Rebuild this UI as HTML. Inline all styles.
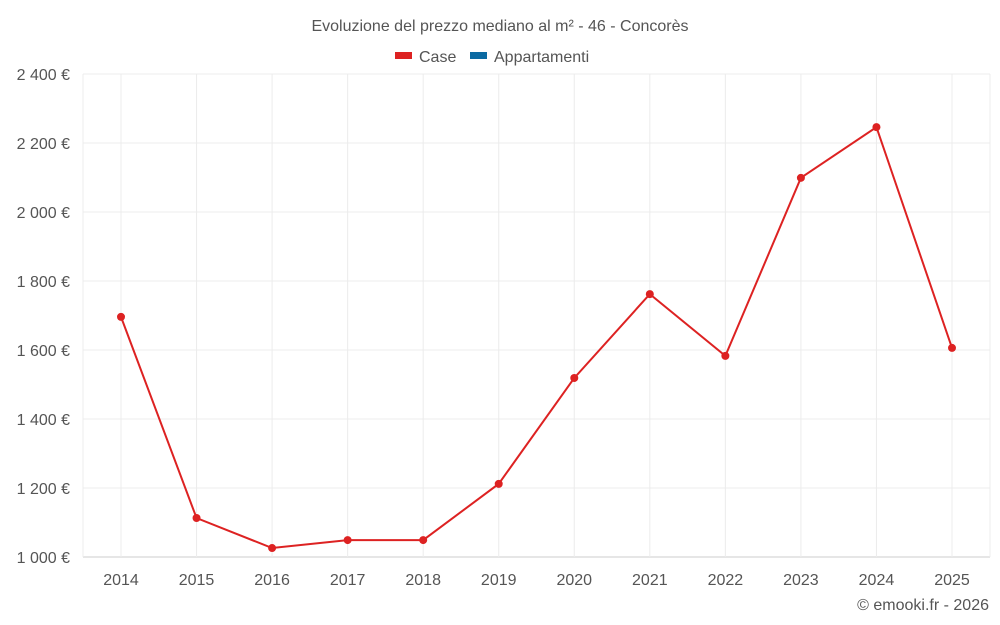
<!DOCTYPE html>
<html><head><meta charset="utf-8"><style>
body{margin:0;background:#fff;font-family:"Liberation Sans",sans-serif}
</style></head><body>
<svg id="chart" width="1000" height="625" style="display:block">
<text x="500" y="31" text-anchor="middle" font-size="16" fill="#555">Evoluzione del prezzo mediano al m² - 46 - Concorès</text>
<g>
<g><rect x="395" y="52" width="17" height="7" fill="#dd2222"/><text x="419" y="62" font-size="16" fill="#555">Case</text></g>
<g><rect x="470" y="52" width="17" height="7" fill="#0b6aa2"/><text x="494" y="62" font-size="16" fill="#555">Appartamenti</text></g>
</g>
<g id="grid"></g><g id="axes"></g><g id="series"></g>
<text x="989" y="610" text-anchor="end" font-size="16" fill="#555">© emooki.fr - 2026</text>
</svg>
<script>
const years=["2014","2015","2016","2017","2018","2019","2020","2021","2022","2023","2024","2025"];
const casePrices=[1696,1113,1026,1049,1049,1212,1519,1762,1583,2099,2246,1606];
const yTicks=[1000,1200,1400,1600,1800,2000,2200,2400];
const yTickLabels=["1 000 €","1 200 €","1 400 €","1 600 €","1 800 €","2 000 €","2 200 €","2 400 €"];
const NS="http://www.w3.org/2000/svg";
const L=83,R=990,T=74,B=557,yMin=1000,yMax=2400;
const x=i=>121+i*(952-121)/(years.length-1);
const y=v=>B-(v-yMin)/(yMax-yMin)*(B-T);
function mk(p,t,a){const e=document.createElementNS(NS,t);for(const k in a)e.setAttribute(k,a[k]);p.appendChild(e);return e;}
const g=document.getElementById('grid'),ax=document.getElementById('axes'),s=document.getElementById('series');
yTicks.forEach((v,i)=>{
 const ln=mk(g,'line',{x1:L,x2:R,y1:y(v),y2:y(v),stroke:i==0?'#ccc':'#ececec'});
 
 
 const t=mk(ax,'text',{x:70,y:y(v)+6,'text-anchor':'end','font-size':16,fill:'#555'});
 t.textContent=yTickLabels[i];
 
 
});
[L,R].forEach(xx=>{const ln=mk(g,'line',{x1:xx,x2:xx,y1:T,y2:B,stroke:'#ececec'});
 
 });
years.forEach((yr,i)=>{
 const ln=mk(g,'line',{x1:x(i),x2:x(i),y1:T,y2:B,stroke:'#ececec'});
 
 
 const t=mk(ax,'text',{x:x(i),y:585,'text-anchor':'middle','font-size':16,fill:'#555'});
 t.textContent=yr;
 
 
});
const line=mk(s,'polyline',{points:casePrices.map((v,i)=>x(i)+','+y(v)).join(' '),fill:'none',stroke:'#dd2222','stroke-width':2});


casePrices.forEach((v,i)=>{
 const c=mk(s,'circle',{cx:x(i),cy:y(v),r:4,fill:'#dd2222'});
 
 
});
</script>
</body></html>
